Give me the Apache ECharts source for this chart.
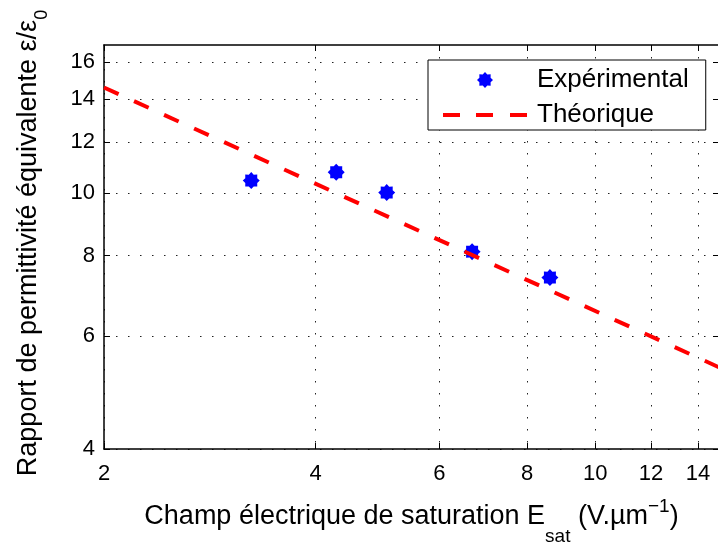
<!DOCTYPE html>
<html>
<head>
<meta charset="utf-8">
<script src="https://cdn.jsdelivr.net/npm/echarts@6/dist/echarts.min.js"></script>
<style>
html, body { margin: 0; padding: 0; background: #fff; }
#chart { width: 718px; height: 545px; }
</style>
</head>
<body>
<div id="chart"></div>
<script>
// valeurs
let expX = [3.24, 4.28, 5.05, 6.68, 8.62];
let expY = [10.46, 10.78, 10.02, 8.11, 7.39];
let theoX = [2, 15];
let theoY = [14.6, 5.36];
let xTicks = [2, 4, 6, 8, 10, 12, 14];
let yTicks = [4, 6, 8, 10, 12, 14, 16];
let xRange = [2, 15];
let yRange = [4, 17];

let fontName = '"Liberation Sans", Arial, Helvetica, sans-serif';

// axes log : on passe par log10
function lg(v) { return Math.log10(v); }
function unLg(v) { return Math.round(Math.pow(10, v)); }

let expData = expX.map(function (x, i) { return [lg(x), lg(expY[i])]; });
let theoData = theoX.map(function (x, i) { return [lg(x), lg(theoY[i])]; });

// symbole "*" épais
function asteriskPath() {
    let pts = [];
    let n = 16;
    for (let i = 0; i < n; i++) {
        let a = Math.PI * 2 * i / n;
        let r = (i % 2 === 0) ? 10 : 7.6;
        pts.push((10 + r * Math.sin(a)).toFixed(2) + ',' + (10 - r * Math.cos(a)).toFixed(2));
    }
    return 'path://M' + pts.join('L') + 'Z';
}

// icône de légende en tirets
let dashIcon = 'path://M0,0H17V4H0Z M33,0H50V4H33Z M67,0H84V4H67Z';

let myChart = echarts.init(document.getElementById('chart'));

let tickStyle = { color: '#000', width: 1 };
let gridDots = { color: '#222', width: 1, type: [1.5, 10.5] };

let option = {
    backgroundColor: '#fff',
    animation: false,
    textStyle: { fontFamily: fontName },
    grid: { left: 104, top: 45, right: -1, bottom: 96, outerBoundsMode: 'none' },
    legend: {
        orient: 'vertical',
        left: 428,
        top: 60,
        padding: [6, 17, 1, 15],
        itemWidth: 84,
        itemHeight: 16,
        itemGap: 7,
        borderColor: '#000',
        borderWidth: 1,
        backgroundColor: '#fff',
        textStyle: { fontSize: 26, lineHeight: 28, color: '#000', fontFamily: fontName, padding: [0, 0, 0, 5] },
        data: [
            { name: 'Expérimental' },
            { name: 'Théorique', icon: dashIcon, itemStyle: { color: '#ff0000' } }
        ]
    },
    xAxis: [{
        type: 'value',
        min: lg(xRange[0]),
        max: lg(xRange[1]),
        name: '{t|Champ électrique de saturation E}{sub|sat}{t| (V.µm}{sup|−1}{t|)}',
        nameLocation: 'middle',
        nameGap: 59,
        nameTextStyle: {
            color: '#000',
            fontSize: 27,
            rich: {
                t: { fontSize: 27, color: '#000', fontFamily: fontName, lineHeight: 38, padding: [0, 0, 16, 0], verticalAlign: 'bottom' },
                sub: { fontSize: 19, color: '#000', fontFamily: fontName, lineHeight: 18, verticalAlign: 'bottom' },
                sup: { fontSize: 19, color: '#000', fontFamily: fontName, lineHeight: 18, padding: [0, 0, 30, 0], verticalAlign: 'bottom' }
            }
        },
        axisLine: { show: true, onZero: false, lineStyle: { color: '#000', width: 1.5 } },
        axisTick: { show: true, inside: true, length: 6, customValues: xTicks.map(lg), lineStyle: tickStyle },
        axisLabel: { customValues: xTicks.map(lg), formatter: unLg, color: '#000', fontSize: 22, margin: 14 },
        splitLine: { show: true, lineStyle: gridDots }
    }, {
        type: 'value',
        position: 'top',
        min: lg(xRange[0]),
        max: lg(xRange[1]),
        axisLine: { show: true, onZero: false, lineStyle: { color: '#000', width: 1.5 } },
        axisTick: { show: true, inside: true, length: 6, customValues: xTicks.map(lg), lineStyle: tickStyle },
        axisLabel: { show: false },
        splitLine: { show: false }
    }],
    yAxis: [{
        type: 'value',
        min: lg(yRange[0]),
        max: lg(yRange[1]),
        name: '{t|Rapport de permittivité équivalente ε/ε}{sub|0}',
        nameLocation: 'middle',
        nameRotate: 90,
        nameGap: 53,
        nameTextStyle: {
            color: '#000',
            fontSize: 27,
            rich: {
                t: { fontSize: 27, color: '#000', fontFamily: fontName, lineHeight: 36, verticalAlign: 'top', padding: [0, 0, 0, 8] },
                sub: { fontSize: 18, color: '#000', fontFamily: fontName, lineHeight: 18, padding: [25, 0, 0, 0], verticalAlign: 'bottom' }
            }
        },
        axisLine: { show: true, onZero: false, lineStyle: { color: '#000', width: 1.5 } },
        axisTick: { show: true, inside: true, length: 6, customValues: yTicks.map(lg), lineStyle: tickStyle },
        axisLabel: { customValues: yTicks.map(lg), formatter: unLg, color: '#000', fontSize: 22, margin: 9 },
        splitLine: { show: true, lineStyle: gridDots }
    }, {
        type: 'value',
        position: 'right',
        min: lg(yRange[0]),
        max: lg(yRange[1]),
        axisLine: { show: true, onZero: false, lineStyle: { color: '#000', width: 1.5 } },
        axisTick: { show: true, inside: true, length: 6, customValues: yTicks.map(lg), lineStyle: tickStyle },
        axisLabel: { show: false },
        splitLine: { show: false }
    }],
    series: [{
        name: 'Expérimental',
        type: 'scatter',
        xAxisIndex: 0,
        yAxisIndex: 0,
        symbol: asteriskPath(),
        symbolSize: 17,
        itemStyle: { color: '#0000ff', opacity: 1 },
        data: expData,
        z: 3
    }, {
        name: 'Théorique',
        type: 'line',
        xAxisIndex: 0,
        yAxisIndex: 0,
        symbol: 'none',
        lineStyle: { color: '#ff0000', width: 4, type: [16, 17] },
        itemStyle: { color: '#ff0000' },
        data: theoData,
        z: 4
    }]
};

myChart.setOption(option);
</script>
</body>
</html>
